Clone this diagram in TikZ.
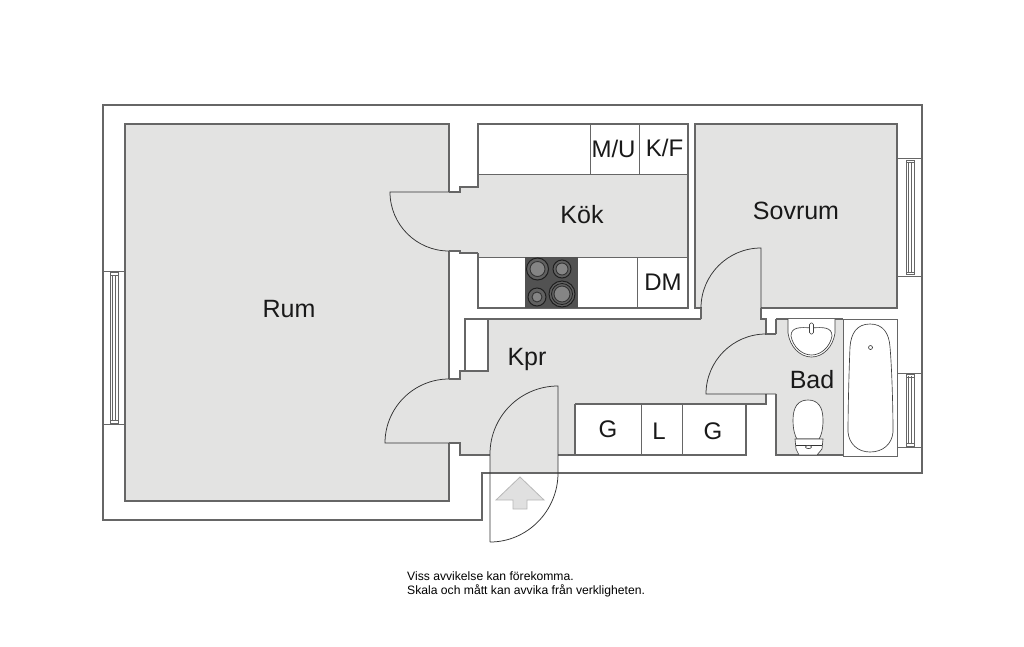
\documentclass[tikz,border=0pt]{standalone}
\usepackage{fontspec}
\setmainfont{Liberation Sans}
\definecolor{floorgrey}{HTML}{E3E3E2}
\definecolor{wallgrey}{HTML}{666666}
\tikzset{
  wall/.style={draw=wallgrey, line width=1.15pt},
  thinwall/.style={draw=wallgrey, line width=0.8pt},
  doorline/.style={draw=black!80, line width=0.75pt},
  fixture/.style={draw=black!75, line width=0.65pt, fill=white},
  floorarea/.style={fill=floorgrey},
  roomlabel/.style={font=\fontsize{25}{30}\selectfont, text=black!90},
  unitlabel/.style={font=\fontsize{24}{28}\selectfont, text=black!90},
  hobring/.style={draw=black!88, line width=1pt, fill=black!62},
  hobplate/.style={draw=black!80, line width=0.9pt, fill=black!48},
}
\begin{document}
\begin{tikzpicture}[x=1pt,y=-1pt]
    \useasboundingbox(0,0) rectangle (1024,646);
    \fill[white](0,0) rectangle (1024,646);
    % floors
    \fill[floorarea](125,124)--(449,124)--(449,501)--(125,501)--cycle;
    \fill[floorarea](478,174)--(688,174)--(688,257)--(478,257)--(478,253)--(460,253)--(460,251)--(449,251)--(449,192)--(460,192)--(460,187)--(478,187)--cycle;
    \fill[floorarea](390,192)..controls (390,224.6) and (416.4,251)..(449,251)--(449,192)--cycle;
    \fill[floorarea](695,124)--(897,124)--(897,308)--(761,308)--(761,248)..controls (727.9,248) and (701,274.9)..(701,308)--(695,308)--cycle;
    \fill[floorarea](488,319)--(701,319)--(701,308)--(761,308)--(761,319)--(766,319)--(766,334)--(776,334)--(776,394)--(766,394)--(766,404)--(575,404)--(575,455)--(460,455)--(460,443)--(449,443)--(449,379)--(460,379)--(460,371)--(488,371)--cycle;
    \fill[floorarea](761,248)--(761,308)--(701,308)..controls (701,274.9) and (727.9,248)..(761,248);
    \fill[floorarea](776,319)--(843,319)--(843,455)--(776,455)--cycle;
    \fill[floorarea](490,454)..controls (490,416.4) and (520.4,386)..(558,386)--(558,473)--(490,473)--cycle;
    % outer wall
    \draw[wall](103,105)--(922,105)--(922,473)--(482,473)--(482,520)--(103,520)--cycle;
    % rum
    \draw[wall](449,192)--(449,124)--(125,124)--(125,501)--(449,501)--(449,443);
    \draw[wall](449,251)--(449,379);
    % kitchen
    \draw[wall](478,174)--(478,124)--(688,124)--(688,308)--(478,308)--(478,253);
    \draw[thinwall](478,174)--(688,174);
    \draw[thinwall](478,257)--(688,257);
    \draw[thinwall](590,124)--(590,174);
    \draw[thinwall](639,124)--(639,174);
    \draw[thinwall](637,257)--(637,308);
    \draw[wall](449,192)--(460,192)--(460,187)--(478,187)--(478,174);
    \draw[wall](449,251)--(460,251)--(460,253)--(478,253);
    \draw[doorline](449,192)--(390,192)..controls (390,224.6) and (416.4,251)..(449,251);
    % hob
    \fill[black!68](525,257) rectangle (578,308);
    \draw[hobring](537.5,269) circle (11);
    \draw[hobplate](537.5,269) circle (7.5);
    \draw[hobring](562,269) circle (9);
    \draw[hobplate](562,269) circle (6);
    \draw[hobring](537,297) circle (9);
    \draw[hobplate](537,297) circle (5);
    \draw[hobring](562,294) circle (13);
    \draw[black!88, line width=0.8pt](562,294) circle (10.5);
    \draw[hobplate](562,294) circle (8);
    % sovrum
    \draw[wall](701,319)--(701,308)--(695,308)--(695,124)--(897,124)--(897,308)--(761,308);
    \draw[doorline](761,308)--(761,248)..controls (727.9,248) and (701,274.9)..(701,308);
    % kpr
    \draw[wall](701,319)--(465,319)--(465,371)--(488,371)--(488,319);
    \draw[wall](465,371)--(460,371)--(460,379)--(449,379);
    \draw[wall](761,308)--(761,319)--(766,319)--(766,334)--(776,334);
    \draw[wall](766,394)--(766,404)--(575,404);
    \draw[wall](449,443)--(460,443)--(460,455)--(490,455);
    \draw[wall](558,455)--(575,455);
    \draw[doorline](776,394)--(706,394)..controls (706,360.9) and (732.9,334)..(766,334);
    \draw[doorline](449,379)..controls (413.7,379) and (385,407.7)..(385,443)--(449,443);
    % closets
    \draw[wall](575,404)--(575,455)--(746,455)--(746,404);
    \draw[thinwall](641,404)--(641,455);
    \draw[thinwall](682,404)--(682,455);
    % entrance door
    \draw[doorline](490,542)--(490,454)..controls (490,416.4) and (520.4,386)..(558,386)--(558,473)..controls (558,510.6) and (527.6,542)..(490,542);
    \draw[fill=black!12, draw=black!28, line width=0.8pt](520,477)--(544,500)--(527,500)--(527,509)--(513,509)--(513,500)--(496,500)--cycle;
    % bad
    \draw[wall](776,319)--(776,334);
    \draw[wall](776,394)--(776,455)--(843,455);
    \draw[wall](776,319)--(843,319);
    \draw[thinwall, fill=white](843,319) rectangle (897,456);
    % sink
    \draw[fixture](788,319)--(788,333)..controls (790,347) and (800,357)..(811.5,357)..controls (823,357) and (833,347)..(835,333)--(835,319);
    \draw[fixture](811.5,328)..controls (800,327) and (791,327)..(791,336)..controls (793,347) and (802,355)..(811.5,355)..controls (821,355) and (830,347)..(832,336)..controls (832,327) and (823,327)..(811.5,328)--cycle;
    \draw[fixture, rounded corners=1.5pt](809.5,323) rectangle (813.5,334);
    % toilet
    \draw[fixture](808,400)..controls (798,400) and (793,407)..(793,420)..controls (793,430) and (795,436)..(797,439)--(819,439)..controls (821,436) and (823,430)..(823,420)..controls (823,407) and (818,400)..(808,400)--cycle;
    \draw[fixture](795,439)--(823,439)--(822,449)--(817,455)--(799,455)--(796,449)--cycle;
    \draw[doorline](796,445)--(822,445);
    \draw[fixture](808.5,447) ellipse (3 and 1.6);
    % bath
    \draw[fixture](870,324)..controls (857,324) and (851,333)..(850,347)..controls (849,370) and (848,410)..(848,432)..controls (849,444) and (858,452)..(870,452)..controls (883,452) and (892,444)..(893,432)..controls (893,410) and (892,370)..(890,347)..controls (889,333) and (883,324)..(870,324)--cycle;
    \draw[fixture](870.5,347.5) circle (2);
    % windows
    \draw[thinwall](103,271)--(125,271);
    \draw[thinwall](103,424)--(125,424);
    \draw[thinwall](110,272) rectangle (118,423);
    \draw[thinwall](112.5,275)--(112.5,420);
    \draw[thinwall](115.5,275)--(115.5,420);
    \draw[thinwall](110,275)--(118,275);
    \draw[thinwall](110,420)--(118,420);
    \draw[thinwall](897,158)--(922,158);
    \draw[thinwall](897,276)--(922,276);
    \draw[thinwall](906,160) rectangle (914,274);
    \draw[thinwall](908.5,162)--(908.5,272);
    \draw[thinwall](911.5,162)--(911.5,272);
    \draw[thinwall](906,162)--(914,162);
    \draw[thinwall](906,272)--(914,272);
    \draw[thinwall](897,373)--(922,373);
    \draw[thinwall](897,447)--(922,447);
    \draw[thinwall](906,374) rectangle (914,446);
    \draw[thinwall](908.5,376)--(908.5,444);
    \draw[thinwall](911.5,376)--(911.5,444);
    \draw[thinwall](906,377)--(914,377);
    \draw[thinwall](906,443)--(914,443);
    % labels
    \node[roomlabel](rum) at (289,309) {Rum};
    \node[roomlabel](kok) at (582,215) {Kök};
    \node[roomlabel](sovrum) at (796,211) {Sovrum};
    \node[roomlabel](kpr) at (527,359.5) {Kpr};
    \node[roomlabel](bad) at (812,380) {Bad};
    \node[unitlabel](mu) at (613.5,149) {M/U};
    \node[unitlabel](kf) at (664.5,147.5) {K/F};
    \node[unitlabel](dm) at (663,282) {DM};
    \node[unitlabel](ga) at (608,429.5) {G};
    \node[unitlabel](la) at (659,431) {L};
    \node[unitlabel](gb) at (713,431) {G};
    \node[anchor=west, inner sep=0pt, font=\fontsize{12.15}{15}\selectfont](avvikelse) at (407,576) {Viss avvikelse kan förekomma.};
    \node[anchor=west, inner sep=0pt, font=\fontsize{12.15}{15}\selectfont](skala) at (407,591) {Skala och mått kan avvika från verkligheten.};
\end{tikzpicture}
\end{document}
